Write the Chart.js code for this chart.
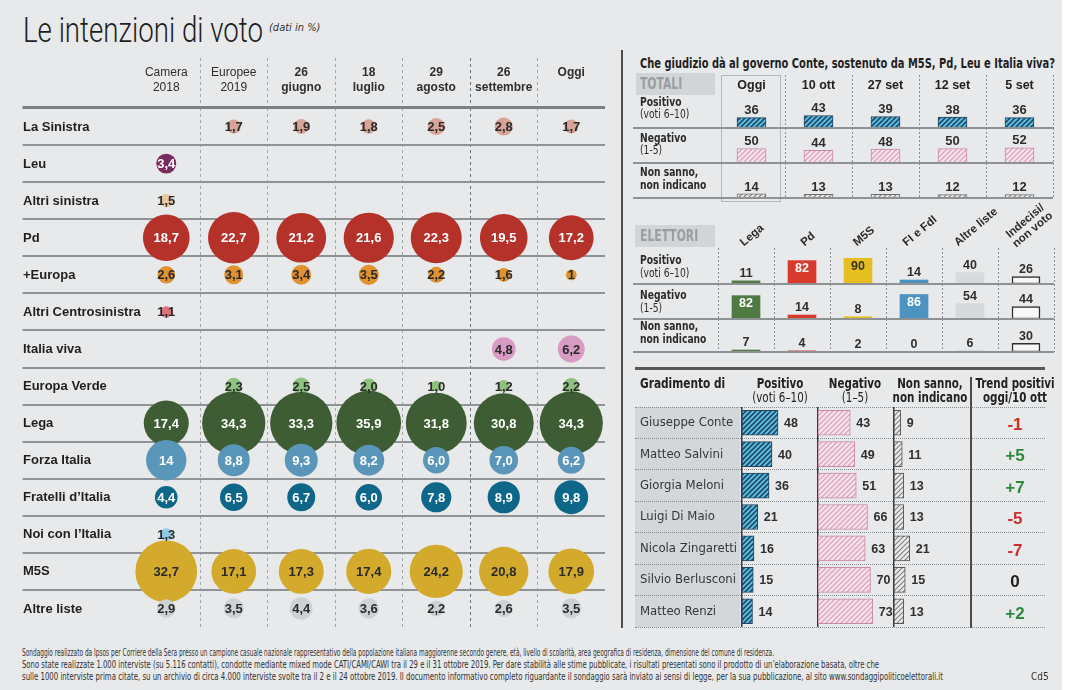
<!DOCTYPE html>
<html lang="it">
<head>
<meta charset="utf-8">
<title>Le intenzioni di voto</title>
<script src="https://cdn.jsdelivr.net/npm/chart.js@4.4.1/dist/chart.umd.min.js"></script>
<style>
  html, body { margin:0; padding:0; width:1067px; height:690px; overflow:hidden; background:#ffffff; }
  #panel { position:absolute; left:0; top:0; width:1062px; height:690px; background:#e7e9ea; }
  #panel canvas { position:absolute; z-index:2; }
  .tx { position:absolute; white-space:nowrap; z-index:3;
        font-family:"DejaVu Sans Condensed","Liberation Sans Narrow",sans-serif; color:#2b2b2b; transform-origin:0 50%; }
  .c { transform-origin:50% 50%; }
  .ln { position:absolute; z-index:3; }
  .bg { position:absolute; z-index:1; }
  .b { font-weight:bold; }
  .rl { font-size:12px; line-height:13px; transform:scaleX(0.85); }
  .gh { font-size:14px; line-height:14px; color:#222; width:110px; text-align:center; transform:scaleX(0.82); }
</style>
</head>
<body>
<div id="panel">
  <div class="tx" id="title" style="left:23px;top:13px;font-family:Roboto,'Open Sans',sans-serif;font-weight:300;font-size:35px;line-height:36px;color:#1e1e1e;">Le intenzioni di voto</div>
  <div class="tx" id="subtitle" style="left:269px;top:21px;font-size:11px;font-style:italic;line-height:13px;color:#333;">(dati in %)</div>

  <!-- right panel frame -->
  <div class="ln" style="left:621px;top:50px;width:2px;height:578px;background:#4e4e4e;"></div>
  <div class="tx b" id="rtitle" style="left:640px;top:54px;font-size:14px;line-height:18px;color:#1f1f1f;">Che giudizio dà al governo Conte, sostenuto da M5S, Pd, Leu e Italia viva?</div>

  <!-- TOTALI -->
  <div class="bg" style="left:636px;top:73px;width:79px;height:22px;background:#d2d5d8;"></div>
  <div class="tx b" style="left:640px;top:73px;font-size:15px;line-height:22px;color:#9a9ea2;transform:scaleX(0.8);">TOTALI</div>
  <div class="ln" style="left:721px;top:75px;width:60px;height:127px;border:1px solid #b3b7ba;box-sizing:border-box;"></div>
  <div class="tx rl" style="left:640px;top:96px;line-height:12px;"><span class="b">Positivo</span><br>(voti 6–10)</div>
  <div class="tx rl" style="left:640px;top:132px;line-height:12px;"><span class="b">Negativo</span><br>(1-5)</div>
  <div class="tx rl b" style="left:640px;top:166px;">Non sanno,<br>non indicano</div>
  <div class="ln" style="left:633px;top:127px;width:420px;height:2px;background:#8e9295;"></div>
  <div class="ln" style="left:633px;top:162px;width:420px;height:2px;background:#8e9295;"></div>
  <div class="ln" style="left:633px;top:197px;width:420px;height:2px;background:#8e9295;"></div>

  <!-- ELETTORI -->
  <div class="bg" style="left:635px;top:225px;width:80px;height:22px;background:#d2d5d8;"></div>
  <div class="tx b" style="left:640px;top:225px;font-size:15px;line-height:22px;color:#9a9ea2;transform:scaleX(0.8);">ELETTORI</div>
  <div class="tx rl" style="left:640px;top:254px;"><span class="b">Positivo</span><br>(voti 6–10)</div>
  <div class="tx rl" style="left:640px;top:289px;"><span class="b">Negativo</span><br>(1-5)</div>
  <div class="tx rl b" style="left:640px;top:320px;">Non sanno,<br>non indicano</div>
  <div class="ln" style="left:633px;top:283px;width:421px;height:2px;background:#8e9295;"></div>
  <div class="ln" style="left:633px;top:318px;width:421px;height:2px;background:#8e9295;"></div>
  <div class="ln" style="left:633px;top:351px;width:421px;height:2px;background:#8e9295;"></div>

  <!-- GRADIMENTO -->
  <div class="ln" style="left:635px;top:367px;width:410px;height:3px;background:#575757;"></div>
  <div class="tx b" style="left:640px;top:375px;font-size:14px;line-height:16px;color:#222;transform:scaleX(0.84);">Gradimento di</div>
  <div class="tx c gh" style="left:725px;top:376px;"><span class="b">Positivo</span><br>(voti 6–10)</div>
  <div class="tx c gh" style="left:800px;top:376px;"><span class="b">Negativo</span><br>(1–5)</div>
  <div class="tx c gh b" style="left:875px;top:376px;">Non sanno,<br>non indicano</div>
  <div class="tx c gh b" style="left:960px;top:376px;">Trend positivi<br>oggi/10 ott</div>
  <div class="ln" style="left:970px;top:377px;width:1.5px;height:251px;background:#4a4a4a;"></div>
  <div class="bg" style="left:635px;top:407px;width:105px;height:220px;background:#d3d7da;"></div>
  <div id="gradLines"></div>
  <div id="trendBox"></div>

  <!-- FOOTER -->
  <div class="tx" id="f1" style="left:22px;top:647px;font-size:10px;line-height:12px;color:#333;">Sondaggio realizzato da Ipsos per Corriere della Sera presso un campione casuale nazionale rappresentativo della popolazione italiana maggiorenne secondo genere, età, livello di scolarità, area geografica di residenza, dimensione del comune di residenza.</div>
  <div class="tx" id="f2" style="left:22px;top:659px;font-size:10px;line-height:12px;color:#333;">Sono state realizzate 1.000 interviste (su 5.116 contatti), condotte mediante mixed mode CATI/CAMI/CAWI tra il 29 e il 31 ottobre 2019. Per dare stabilità alle stime pubblicate, i risultati presentati sono il prodotto di un’elaborazione basata, oltre che</div>
  <div class="tx" id="f3" style="left:22px;top:671px;font-size:10px;line-height:12px;color:#333;">sulle 1000 interviste prima citate, su un archivio di circa 4.000 interviste svolte tra il 2 e il 24 ottobre 2019. Il documento informativo completo riguardante il sondaggio sarà inviato ai sensi di legge, per la sua pubblicazione, al sito www.sondaggipoliticoelettorali.it</div>
  <div class="tx" style="left:1031px;top:671px;font-size:10px;line-height:12px;color:#333;">Cd5</div>
</div>

<script>
// ================= DATA =================
// Left chart: voting intentions (%), one array per party, one value per survey column
const pollColumns = ['Camera 2018', 'Europee 2019', '26 giugno', '18 luglio', '29 agosto', '26 settembre', 'Oggi'];
const parties = ['La Sinistra', 'Leu', 'Altri sinistra', 'Pd', '+Europa', 'Altri Centrosinistra', 'Italia viva',
                 'Europa Verde', 'Lega', 'Forza Italia', 'Fratelli d’Italia', 'Noi con l’Italia', 'M5S', 'Altre liste'];
const laSinistra          = [null, '1,7', '1,9', '1,8', '2,5', '2,8', '1,7'];
const leu                 = ['3,4', null, null, null, null, null, null];
const altriSinistra       = ['1,5', null, null, null, null, null, null];
const pd                  = ['18,7', '22,7', '21,2', '21,6', '22,3', '19,5', '17,2'];
const piuEuropa           = ['2,6', '3,1', '3,4', '3,5', '2,2', '1,6', '1'];
const altriCentrosinistra = ['1,1', null, null, null, null, null, null];
const italiaViva          = [null, null, null, null, null, '4,8', '6,2'];
const europaVerde         = [null, '2,3', '2,5', '2,0', '1,0', '1,2', '2,2'];
const lega                = ['17,4', '34,3', '33,3', '35,9', '31,8', '30,8', '34,3'];
const forzaItalia         = ['14', '8,8', '9,3', '8,2', '6,0', '7,0', '6,2'];
const fratelliItalia      = ['4,4', '6,5', '6,7', '6,0', '7,8', '8,9', '9,8'];
const noiConItalia        = ['1,3', null, null, null, null, null, null];
const m5s                 = ['32,7', '17,1', '17,3', '17,4', '24,2', '20,8', '17,9'];
const altreListe          = ['2,9', '3,5', '4,4', '3,6', '2,2', '2,6', '3,5'];

// Right top: government judgement, totals
const totaliCols  = ['Oggi', '10 ott', '27 set', '12 set', '5 set'];
const totPositivo = [36, 43, 39, 38, 36];
const totNegativo = [50, 44, 48, 50, 52];
const totNonSanno = [14, 13, 13, 12, 12];

// Right middle: by electorate
const elettoriCols = ['Lega', 'Pd', 'M5S', 'FI e FdI', 'Altre liste', 'Indecisi/ non voto'];
const eletPositivo = [11, 82, 90, 14, 40, 26];
const eletNegativo = [82, 14, 8, 86, 54, 44];
const eletNonSanno = [7, 4, 2, 0, 6, 30];

// Right bottom: leaders' approval
const leaders = ['Giuseppe Conte', 'Matteo Salvini', 'Giorgia Meloni', 'Luigi Di Maio', 'Nicola Zingaretti', 'Silvio Berlusconi', 'Matteo Renzi'];
const gradPositivo = [48, 40, 36, 21, 16, 15, 14];
const gradNegativo = [43, 49, 51, 66, 63, 70, 73];
const gradNonSanno = [9, 11, 13, 13, 21, 15, 13];
const trendPositivi = ['-1', '+5', '+7', '-5', '-7', '0', '+2'];

// ================= STYLES =================
const SANS = '"Liberation Sans", Arial, sans-serif';
const COND = '"DejaVu Sans Condensed", "Liberation Sans Narrow", sans-serif';
const seriesByParty = [laSinistra, leu, altriSinistra, pd, piuEuropa, altriCentrosinistra, italiaViva,
                       europaVerde, lega, forzaItalia, fratelliItalia, noiConItalia, m5s, altreListe];
const partyColors = ['#d8a497', '#7b2c5e', '#e9c7a3', '#b5322b', '#df9230', '#d9737d', '#d79bc4',
                     '#8fc27f', '#3f5d35', '#5a96b9', '#0e6789', '#93c9e6', '#d3aa2b', '#cfd2d4'];
const partyTextColors = ['#2a2a2a', '#ffffff', '#2a2a2a', '#ffffff', '#2a2a2a', '#2a2a2a', '#2a2a2a',
                         '#2a2a2a', '#ffffff', '#ffffff', '#ffffff', '#2a2a2a', '#2a2a2a', '#2a2a2a'];
const elettoriColors = ['#4f7a41', '#d83a2d', '#e5bf1f', '#4d93c1', '#d7d9db', '#f7f7f7'];
const elettoriInsideText = ['#ffffff', '#ffffff', '#3b3420', '#ffffff', '#ffffff', '#ffffff'];
const TRANSPARENT = 'rgba(0,0,0,0)';

Chart.defaults.responsive = false;
Chart.defaults.animation = false;
Chart.defaults.events = [];
Chart.defaults.devicePixelRatio = 1;
Chart.defaults.layout.autoPadding = false;
Chart.defaults.plugins.legend.display = false;
Chart.defaults.plugins.tooltip.enabled = false;
Chart.defaults.font.family = SANS;

const panel = document.getElementById('panel');
function makeCanvas(left, top, w, h) {
  const c = document.createElement('canvas');
  c.width = w; c.height = h;
  c.style.left = left + 'px'; c.style.top = top + 'px';
  c.style.width = w + 'px'; c.style.height = h + 'px';
  panel.appendChild(c);
  return c;
}
function hatch(bg, fg, size, lw) {
  const c = document.createElement('canvas');
  c.width = size; c.height = size;
  const g = c.getContext('2d');
  g.fillStyle = bg; g.fillRect(0, 0, size, size);
  g.strokeStyle = fg; g.lineWidth = lw;
  g.beginPath();
  g.moveTo(0, size); g.lineTo(size, 0);
  g.moveTo(-size / 2, size / 2); g.lineTo(size / 2, -size / 2);
  g.moveTo(size / 2, size * 1.5); g.lineTo(size * 1.5, size / 2);
  g.stroke();
  return g.createPattern(c, 'repeat');
}
const hatchBlue = hatch('#5cc3e2', '#23476a', 5, 1.6);
const hatchPink = hatch('#f6e2eb', '#d89bb8', 5, 1.2);
const hatchGray = hatch('#ebebeb', '#7d7d7d', 5, 1.1);

// remove automatic label paddings so rows keep their exact band
function noPad(s) { s.paddingTop = 0; s.paddingBottom = 0; s.paddingLeft = 0; s.paddingRight = 0; }
function splitSlash(s) { return s.indexOf('/ ') >= 0 ? [s.split('/ ')[0] + '/', s.split('/ ')[1]] : [s]; }

// ---------- plugins ----------
const bubbleLabels = {
  id: 'bubbleLabels',
  afterDatasetsDraw(chart) {
    const ctx = chart.ctx;
    chart.data.datasets.forEach((ds, di) => {
      const meta = chart.getDatasetMeta(di);
      meta.data.forEach((el, k) => {
        const p = ds.data[k];
        ctx.save();
        ctx.font = 'bold 13px ' + SANS;
        ctx.fillStyle = ds.txtColor;
        ctx.textAlign = 'center';
        ctx.textBaseline = 'middle';
        ctx.fillText(p.txt, el.x, el.y + 1);
        ctx.restore();
      });
    });
  }
};
// party names drawn at the y-scale rows (left aligned, not clipped to the axis box)
const rowLabels = {
  id: 'rowLabels',
  beforeDatasetsDraw(chart) {
    const ys = chart.scales.y, ctx = chart.ctx;
    ctx.save();
    ctx.font = 'bold 13px ' + SANS;
    ctx.fillStyle = '#1f1f1f';
    ctx.textAlign = 'left';
    ctx.textBaseline = 'middle';
    ys.getLabels().forEach((lab, i) => ctx.fillText(lab, ys.left, ys.getPixelForValue(i) + 0.5));
    ctx.restore();
  }
};
// rotated column headers for the ELETTORI table
const rotatedHeaders = {
  id: 'rotatedHeaders',
  afterDraw(chart) {
    const xs = chart.scales.x, ctx = chart.ctx;
    const ang = 40 * Math.PI / 180, lh = 11.5;
    ctx.save();
    ctx.font = 'bold 11.5px ' + SANS;
    ctx.fillStyle = '#2b2b2b';
    ctx.textAlign = 'center';
    ctx.textBaseline = 'middle';
    xs.getLabels().forEach((lab, i) => {
      const lines = splitSlash(lab);
      const w = Math.max.apply(null, lines.map(l => ctx.measureText(l).width));
      const cx = xs.getPixelForValue(i) + 6 - (lines.length - 1) * 3;
      const cy = xs.bottom - 4 - (w / 2) * Math.sin(ang) - (lines.length - 1) * 3;
      ctx.save();
      ctx.translate(cx, cy);
      ctx.rotate(-ang);
      lines.forEach((l, k) => ctx.fillText(l, 0, (k - (lines.length - 1) / 2) * lh));
      ctx.restore();
    });
    ctx.restore();
  }
};
const barLabels = {
  id: 'barLabels',
  afterDatasetsDraw(chart) {
    const ctx = chart.ctx;
    const ds = chart.data.datasets[0];
    const cfg = ds.lbl;
    if (!cfg) return;
    chart.getDatasetMeta(0).data.forEach((el, i) => {
      const v = ds.data[i];
      let x, y, color = cfg.color;
      ctx.save();
      ctx.font = cfg.font;
      ctx.textBaseline = 'middle';
      if (cfg.horizontal) {
        ctx.textAlign = 'left';
        x = el.x + cfg.gap; y = el.y + 1;
      } else {
        ctx.textAlign = 'center';
        x = el.x;
        if (cfg.insideMin !== undefined && v >= cfg.insideMin) {
          y = el.y + cfg.insideGap; color = cfg.insideColors[i];
        } else {
          y = el.y - cfg.gap;
        }
      }
      ctx.fillStyle = color;
      ctx.fillText(String(v), x, y);
      ctx.restore();
    });
  }
};

// ================= LEFT: BUBBLE CHART =================
const RADIUS_K = 5.4;
const toNum = s => parseFloat(s.replace(',', '.'));
const bubbleDatasets = seriesByParty.map((vals, j) => ({
  label: parties[j],
  data: vals.map((v, i) => v === null ? null : { x: pollColumns[i], y: parties[j], r: RADIUS_K * Math.sqrt(toNum(v)), txt: v })
            .filter(p => p !== null),
  backgroundColor: partyColors[j],
  borderWidth: 0,
  order: seriesByParty.length - j,
  clip: false,
  txtColor: partyTextColors[j]
}));

new Chart(makeCanvas(20, 58, 586, 570), {
  type: 'bubble',
  data: { datasets: bubbleDatasets },
  options: {
    layout: { padding: { left: 3, right: 1, top: 0, bottom: 1 } },
    scales: {
      x: {
        type: 'category', labels: pollColumns, position: 'top', offset: true,
        grid: {
          offset: true, lineWidth: 1, drawTicks: true, tickLength: 50, tickBorderDash: [3, 3],
          color: c => (c.index === undefined || c.index === 0) ? TRANSPARENT : (c.index === 5 ? '#707477' : '#a2a6a9')
        },
        border: { display: false, dash: [3, 3] },
        ticks: {
          autoSkip: false, maxRotation: 0, minRotation: 0, crossAlign: 'far', padding: -37.5, color: '#2e2e2e',
          font: c => ({ family: SANS, size: 12, weight: c.index >= 2 ? 'bold' : 'normal', lineHeight: 1.25 }),
          callback: function (v) { return this.getLabelForValue(v).split(' '); }
        },
        afterFit: s => { s.height = 50; noPad(s); }
      },
      y: {
        type: 'category', labels: parties, offset: true,
        grid: {
          offset: true, drawTicks: true, tickLength: 110,
          color: c => c.index === undefined ? TRANSPARENT : (c.index === 0 ? '#7c8083' : '#8f9396'),
          lineWidth: c => c.index === 0 ? 3 : 2
        },
        border: { display: false },
        ticks: { display: false, autoSkip: false },
        afterFit: s => { s.width = 109.5; noPad(s); }
      }
    }
  },
  plugins: [rowLabels, bubbleLabels]
});

// ================= RIGHT: small bar rows =================
function colGrid(hideFirst) {
  return c => (hideFirst && c.index === 0) ? TRANSPARENT : '#8c9093';
}
function plainX(hideFirst, h) {
  return {
    position: h ? 'top' : 'bottom', offset: true,
    grid: { offset: true, drawTicks: false, lineWidth: 1, color: colGrid(hideFirst) },
    border: { display: false, dash: [2, 2] },
    ticks: { display: false, autoSkip: false },
    afterFit: s => { s.height = h || 0; noPad(s); }
  };
}
function rowBar(canvas, labels, values, ds, xScale, ymax, extraPlugins) {
  return new Chart(canvas, {
    type: 'bar',
    data: { labels: labels, datasets: [Object.assign({ data: values, borderSkipped: false }, ds)] },
    options: {
      layout: { padding: { left: 0, right: 1, top: 0, bottom: 0 } },
      scales: { x: xScale, y: { display: false, min: 0, max: ymax } }
    },
    plugins: [barLabels].concat(extraPlugins || [])
  });
}

// TOTALI
const PPU_TOT = 0.29;
const totLbl = { font: 'bold 13px ' + SANS, color: '#2e2e2e', gap: 7 };
rowBar(makeCanvas(718, 75, 336, 53), totaliCols, totPositivo,
  { backgroundColor: hatchBlue, borderColor: '#22445f', borderWidth: 1, barThickness: 29, lbl: totLbl },
  {
    position: 'top', offset: true,
    grid: { offset: true, drawTicks: true, tickLength: 20, tickBorderDash: [2, 2], lineWidth: 1, color: colGrid(true) },
    border: { display: false, dash: [2, 2] },
    ticks: { autoSkip: false, maxRotation: 0, padding: -18, color: '#222', font: { family: SANS, size: 12.5, weight: 'bold' } },
    afterFit: s => { s.height = 20; noPad(s); }
  }, 33 / PPU_TOT);
rowBar(makeCanvas(718, 128, 336, 35), totaliCols, totNegativo,
  { backgroundColor: hatchPink, borderColor: '#c98aa6', borderWidth: 1, barThickness: 29, lbl: totLbl },
  plainX(true), 35 / PPU_TOT);
rowBar(makeCanvas(718, 163, 336, 35), totaliCols, totNonSanno,
  { backgroundColor: hatchGray, borderColor: '#6d6d6d', borderWidth: 1, barThickness: 29, lbl: totLbl },
  plainX(true), 35 / PPU_TOT);

// ELETTORI
const PPU_EL = 0.285;
const elLbl = { font: 'bold 12.5px ' + SANS, color: '#2e2e2e', gap: 7, insideMin: 60, insideGap: 8, insideColors: elettoriInsideText };
const elBorderW = [0, 0, 0, 0, 0, 1.5];
rowBar(makeCanvas(718, 200, 337, 84), elettoriCols, eletPositivo,
  { backgroundColor: elettoriColors, borderColor: '#2e2e2e', borderWidth: elBorderW, barThickness: 28, lbl: elLbl },
  plainX(false, 48), 36 / PPU_EL, [rotatedHeaders]);
rowBar(makeCanvas(718, 284, 337, 35), elettoriCols, eletNegativo,
  { backgroundColor: elettoriColors, borderColor: '#2e2e2e', borderWidth: elBorderW, barThickness: 28, lbl: elLbl },
  plainX(false), 35 / PPU_EL);
rowBar(makeCanvas(718, 319, 337, 33), elettoriCols, eletNonSanno,
  { backgroundColor: elettoriColors, borderColor: '#2e2e2e', borderWidth: elBorderW, barThickness: 28, lbl: elLbl },
  plainX(false), 33 / PPU_EL);

// ================= GRADIMENTO (horizontal bars) =================
const PPU_GR = 0.75;
const grLbl = { horizontal: true, font: 'bold 12.5px ' + SANS, color: '#2e2e2e', gap: 6 };
function gradChart(canvas, values, ds, withNames, areaWidth) {
  return new Chart(canvas, {
    type: 'bar',
    data: { labels: leaders, datasets: [Object.assign({ data: values, borderSkipped: false, barThickness: 25, lbl: grLbl }, ds)] },
    options: {
      indexAxis: 'y',
      layout: { padding: { left: withNames ? 5 : 1, right: 0, top: 0, bottom: 0 } },
      scales: {
        x: { display: false, min: 0, max: areaWidth / PPU_GR },
        y: {
          type: 'category', offset: true,
          grid: { display: false },
          border: { display: true, color: '#3a3a3a', width: 1.5 },
          ticks: withNames
            ? { autoSkip: false, crossAlign: 'far', color: '#363636', font: { family: COND, size: 13 } }
            : { display: false },
          afterFit: s => { s.width = withNames ? 102 : 0; noPad(s); }
        }
      }
    },
    plugins: [barLabels]
  });
}
gradChart(makeCanvas(635, 407, 183, 220), gradPositivo, { backgroundColor: hatchBlue, borderColor: '#22445f', borderWidth: 1 }, true, 76);
gradChart(makeCanvas(817, 407, 77, 220), gradNegativo, { backgroundColor: hatchPink, borderColor: '#c98aa6', borderWidth: 1 }, false, 76);
gradChart(makeCanvas(893, 407, 78, 220), gradNonSanno, { backgroundColor: hatchGray, borderColor: '#555555', borderWidth: 1 }, false, 77);

// row separators and trend text for the Gradimento table
const GR_TOP = 407, GR_ROW = 220 / leaders.length;
const gl = document.getElementById('gradLines');
for (let i = 0; i <= leaders.length; i++) {
  const d = document.createElement('div');
  d.className = 'ln';
  d.style.cssText = 'left:635px;width:410px;height:0;border-top:1px dotted #8a8e91;top:' + (GR_TOP + i * GR_ROW - 0.5) + 'px;z-index:1;';
  gl.appendChild(d);
}
const tb = document.getElementById('trendBox');
trendPositivi.forEach((t, i) => {
  const d = document.createElement('div');
  d.className = 'tx b';
  const col = t.charAt(0) === '-' ? '#c9302c' : (t.charAt(0) === '+' ? '#2c8a3d' : '#1e1e1e');
  d.style.cssText = 'left:972px;width:86px;text-align:center;font-family:' + SANS.replace(/"/g, "'") + ';font-size:17px;height:' + GR_ROW +
    'px;line-height:' + GR_ROW + 'px;top:' + (GR_TOP + i * GR_ROW + 2) + 'px;color:' + col + ';';
  d.textContent = t;
  tb.appendChild(d);
});

// ================= text width fitting =================
function fitW(id, w) {
  const el = document.getElementById(id);
  el.style.transform = 'none';
  const r = el.getBoundingClientRect().width;
  if (r > 0) { el.style.transformOrigin = '0 50%'; el.style.transform = 'scaleX(' + (w / r) + ')'; }
}
fitW('title', 240);
fitW('rtitle', 415);
fitW('f1', 752);
fitW('f2', 857);
fitW('f3', 921);
</script>
</body>
</html>
